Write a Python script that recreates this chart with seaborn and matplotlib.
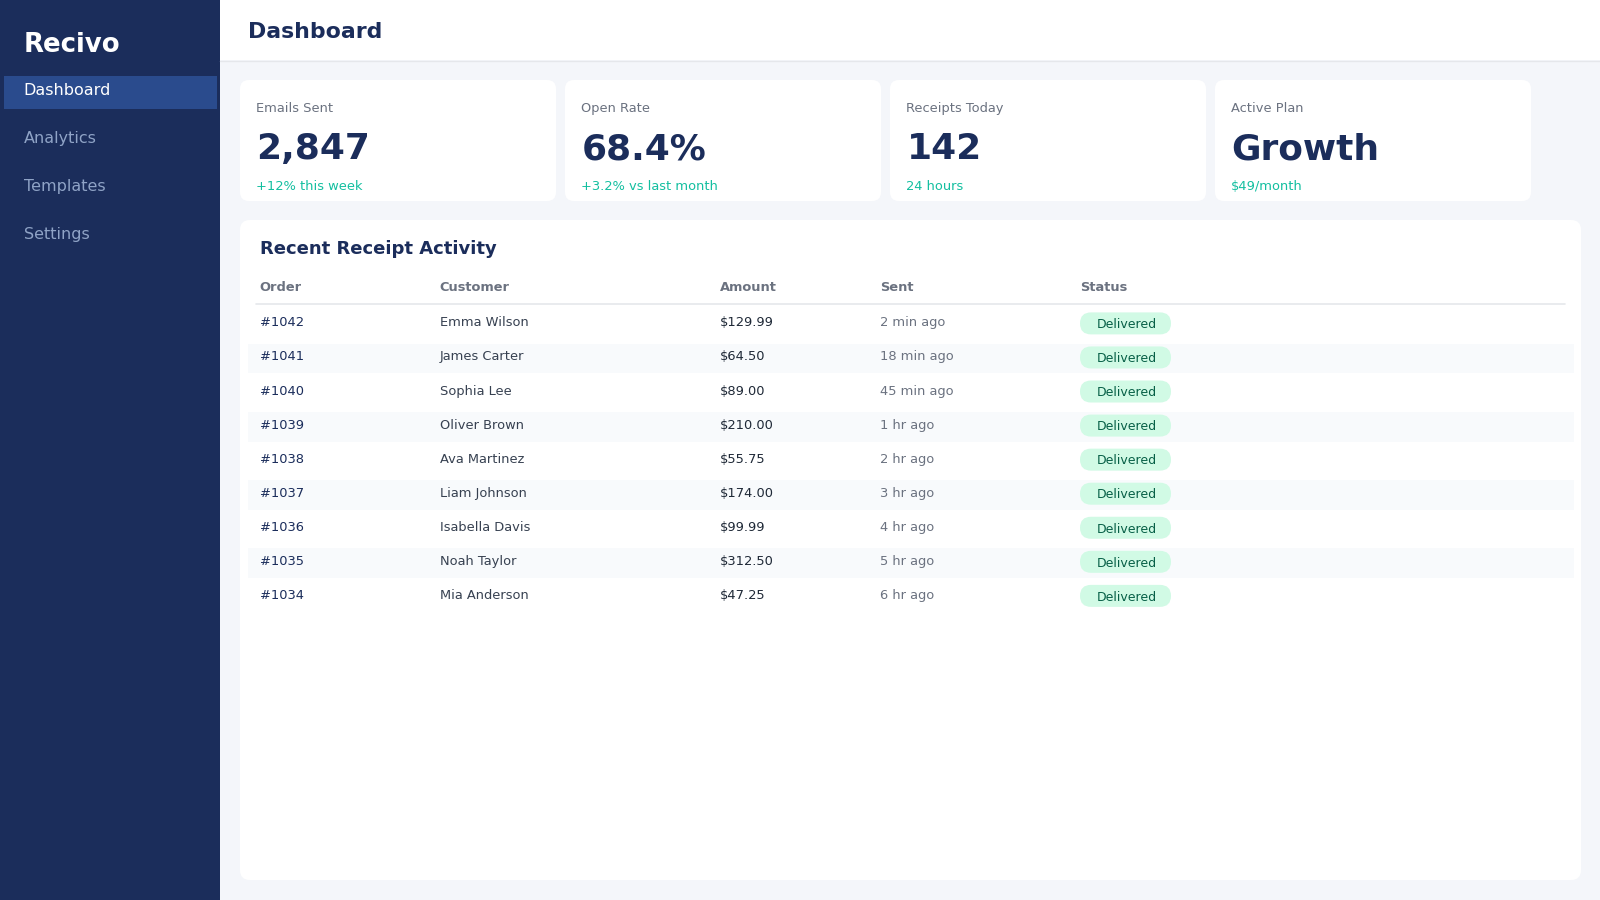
import matplotlib
matplotlib.use("Agg")
import matplotlib.pyplot as plt
from matplotlib.patches import FancyBboxPatch, Rectangle
import seaborn as sns
import pandas as pd

# ---------------- data ----------------
brand = "Recivo"
page_title = "Dashboard"
nav_items = ["Dashboard", "Analytics", "Templates", "Settings"]
active_nav = "Dashboard"

kpi_labels = ["Emails Sent", "Open Rate", "Receipts Today", "Active Plan"]
kpi_values = ["2,847", "68.4%", "142", "Growth"]
kpi_subs = ["+12% this week", "+3.2% vs last month", "24 hours", "$49/month"]

table_title = "Recent Receipt Activity"
columns = ["Order", "Customer", "Amount", "Sent", "Status"]
orders = ["#1042", "#1041", "#1040", "#1039", "#1038", "#1037", "#1036", "#1035", "#1034"]
customers = ["Emma Wilson", "James Carter", "Sophia Lee", "Oliver Brown", "Ava Martinez",
             "Liam Johnson", "Isabella Davis", "Noah Taylor", "Mia Anderson"]
amounts = ["$129.99", "$64.50", "$89.00", "$210.00", "$55.75", "$174.00", "$99.99", "$312.50", "$47.25"]
sent = ["2 min ago", "18 min ago", "45 min ago", "1 hr ago", "2 hr ago", "3 hr ago",
        "4 hr ago", "5 hr ago", "6 hr ago"]
statuses = ["Delivered"] * 9

df = pd.DataFrame({"Order": orders, "Customer": customers, "Amount": amounts,
                   "Sent": sent, "Status": statuses})

# ---------------- style ----------------
sns.set_theme(style="white")
plt.rcParams["font.family"] = ["DejaVu Sans"]

NAVY = "#1B2D5B"
SIDEBAR = "#1B2D5B"
ACTIVE = "#2A4B8D"
NAV_TXT = "#8FA3C6"
BG = "#F4F6FA"
GRAY = "#6B7280"
TEAL = "#13BFA0"
DARK = "#374151"
STRIPE = "#F8FAFC"
LINE = "#E5E7EB"
PILL = "#D1FAE5"
PILL_TXT = "#065F46"

def px(p):
    return p * 0.72

fig = plt.figure(figsize=(16, 9), dpi=100, facecolor=BG)
ax = fig.add_axes([0, 0, 1, 1])
ax.set_xlim(0, 1600)
ax.set_ylim(900, 0)
ax.axis("off")
ax.set_facecolor(BG)

def rbox(x, y, w, h, r, color, z=1):
    ax.add_patch(FancyBboxPatch((x, y), w, h,
                                boxstyle=f"round,pad=0,rounding_size={r}",
                                linewidth=0, facecolor=color, zorder=z))

def txt(x, y, s, size, color, bold=False, z=5):
    ax.text(x, y - 1, s, fontsize=px(size), color=color, va="baseline", ha="left",
            fontweight="bold" if bold else "normal", zorder=z)

# background
ax.add_patch(Rectangle((0, 0), 1600, 900, facecolor=BG, linewidth=0, zorder=0))

# sidebar
ax.add_patch(Rectangle((0, 0), 220, 900, facecolor=SIDEBAR, linewidth=0, zorder=1))
txt(24, 53.3, brand, 26, "white", bold=True)
for i, item in enumerate(nav_items):
    base = 95.7 + 48 * i
    if item == active_nav:
        ax.add_patch(Rectangle((4, 76), 213, 32.5, facecolor=ACTIVE, linewidth=0, zorder=2))
        txt(23.8, base, item, 16, "white")
    else:
        txt(23.8, base, item, 16, NAV_TXT)

# header
ax.add_patch(Rectangle((220, 0), 1380, 60, facecolor="white", linewidth=0, zorder=1))
ax.plot([220, 1600], [60.5, 60.5], color=LINE, lw=1, zorder=2)
txt(248.3, 39.3, page_title, 22, NAVY, bold=True)

# KPI cards
card_x = [240, 565, 890, 1215]
for i in range(4):
    cx = card_x[i]
    rbox(cx, 80, 316, 121, 9, "white")
    txt(cx + 16.3, 113.3, kpi_labels[i], 13, GRAY)
    txt(cx + 16.5, 160.2, kpi_values[i], 36, NAVY, bold=True)
    txt(cx + 16.3, 190.7, kpi_subs[i], 13, TEAL)

# table card
rbox(240, 220, 1341, 660, 10, "white")
txt(259.8, 255, table_title, 18, NAVY, bold=True)

col_x = [259.8, 439.5, 720.2, 880.2, 1080.2]
for c, x in zip(columns, col_x):
    txt(x, 291.7, c, 13, GRAY, bold=True)
ax.plot([256, 1565], [304.3, 304.3], color=LINE, lw=1.2, zorder=3)

row_base0 = 327.4
pitch = 34.06
col_colors = [NAVY, DARK, "#1F2937", GRAY]
for r, row in df.iterrows():
    base = row_base0 + pitch * r
    if r % 2 == 1:
        ax.add_patch(Rectangle((248, base - 17.4), 1325.5, 29.4, facecolor=STRIPE,
                               linewidth=0, zorder=2))
    for j, c in enumerate(["Order", "Customer", "Amount", "Sent"]):
        txt(col_x[j], base, row[c], 13, col_colors[j])
    rbox(1080, base - 15, 91, 22, 11, PILL, z=3)
    txt(1097.0, base + 1.8, row["Status"], 12.5, PILL_TXT)

fig.savefig("out.png", dpi=100, facecolor=BG)
